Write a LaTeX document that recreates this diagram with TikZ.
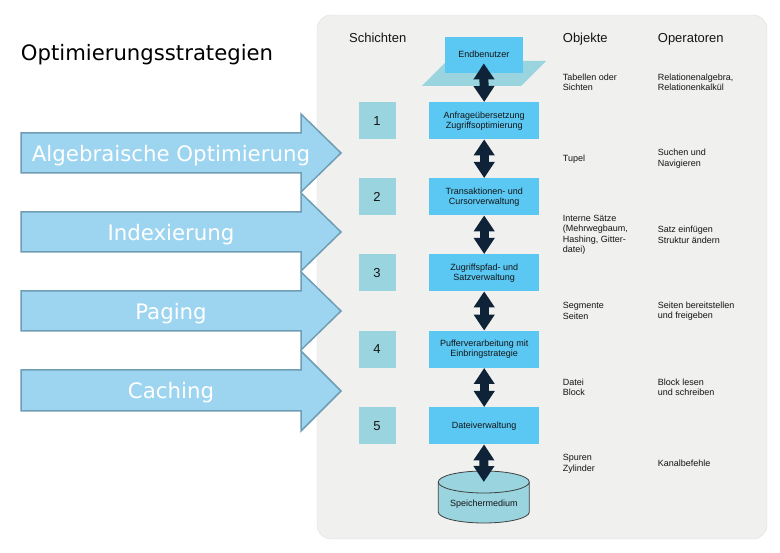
\documentclass[tikz,border=0pt]{standalone}
\usepackage{fontspec}
\setmainfont{Liberation Sans}
\newfontfamily\verdfont{DejaVu Sans}
\usetikzlibrary{arrows.meta}

\definecolor{panelgray}{HTML}{F0F0EF}
\definecolor{layerblue}{HTML}{5BC8F4}
\definecolor{numteal}{HTML}{99D4DF}
\definecolor{linknavy}{HTML}{0E2337}
\definecolor{stratblue}{HTML}{9DD5F1}
\definecolor{stratedge}{HTML}{6F9DB3}
\definecolor{inktext}{HTML}{141414}

\tikzstyle{layer} = [fill=layerblue, minimum width=110pt, minimum height=37pt, inner sep=0pt, align=center, text=inktext, font=\fontsize{9}{10}\selectfont]
\tikzstyle{num} = [fill=numteal, minimum width=37pt, minimum height=37pt, inner sep=0pt, text=inktext, font=\fontsize{13}{15}\selectfont]
\tikzstyle{info} = [anchor=west, align=left, inner sep=0pt, text=inktext, font=\fontsize{9}{10.5}\selectfont]
\tikzstyle{head} = [anchor=base west, inner sep=0pt, text=inktext, font=\fontsize{13}{15}\selectfont]
\tikzstyle{link} = [line width=9pt, draw=linknavy, {Triangle[width=20pt,length=16pt]}-{Triangle[width=20pt,length=16pt]}]
\tikzstyle{strat} = [fill=stratblue, draw=stratedge, line width=1.5pt, line join=miter]
\tikzstyle{strattext} = [anchor=base, inner sep=0pt, text=white, font=\verdfont\fontsize{21.3}{24}\selectfont]

\begin{document}
\begin{tikzpicture}[x=1pt, y=-1pt]
    \useasboundingbox (0,0) rectangle (780,553);
    % panel
    \draw[fill=panelgray, draw=black!12, rounded corners=14pt] (317,15) rectangle (767,539);
    \node [anchor=base west, inner sep=0pt, font=\verdfont\fontsize{21.2}{24}\selectfont] (title) at (20.7,61) {Optimierungsstrategien};

    \node (hs) [head] at (349,42.3) {Schichten};
    \node (ho) [head] at (562.7,42.3) {Objekte};
    \node (hp) [head] at (657.7,42.3) {Operatoren};

    % Endbenutzer und Ebene
    \fill[numteal] (422,86) -- (521,86) -- (546,61) -- (447,61) -- cycle;
    \node (user) [layer, minimum width=78pt, minimum height=36pt] at (483.8,54.7) {Endbenutzer};

    \node (b1) [layer] at (484.2,120.7) {Anfrageübersetzung\\Zugriffsoptimierung};
    \node (b2) [layer] at (484.2,196.7) {Transaktionen- und\\Cursorverwaltung};
    \node (b3) [layer] at (484.2,272.7) {Zugriffspfad- und\\Satzverwaltung};
    \node (b4) [layer] at (484.2,349.3) {Pufferverarbeitung mit\\Einbringstrategie};
    \node (b5) [layer] at (484.2,425.7) {Dateiverwaltung};

    \node (n1) [num] at (377,120.7) {1};
    \node (n2) [num] at (377,196.7) {2};
    \node (n3) [num] at (377,272.7) {3};
    \node (n4) [num] at (377,349.3) {4};
    \node (n5) [num] at (377,425.7) {5};

    % Speichermedium
    \draw[fill=numteal, draw=black!75, line width=0.8pt] (438.3,482) -- (438.3,512)
        arc[start angle=180, end angle=360, x radius=45.5pt, y radius=11pt] -- (529.3,482);
    \draw[fill=numteal, draw=black!75, line width=0.8pt] (483.8,482) ellipse [x radius=45.5pt, y radius=11pt];
    \coordinate (disktop) at (483.8,482);
    \node (disk) [inner sep=0pt, text=inktext, font=\fontsize{9}{10}\selectfont] at (483.8,504) {Speichermedium};

    \draw[link] ([yshift=9.5pt]user.south) -- (b1.north);
    \draw[link] (b1) -- (b2);
    \draw[link] (b2) -- (b3);
    \draw[link] (b3) -- (b4);
    \draw[link] (b4) -- (b5);
    \draw[link] (b5) -- (disktop);

    \node (o0) [info] at (562.7,82.5) {Tabellen oder\\Sichten};
    \node (o1) [info] at (562.7,158.7) {Tupel};
    \node (o2) [info] at (562.7,235) {Interne Sätze\\(Mehrwegbaum,\\Hashing, Gitter-\\datei)};
    \node (o3) [info] at (562.7,311) {Segmente\\Seiten};
    \node (o4) [info] at (562.7,387.3) {Datei\\Block};
    \node (o5) [info] at (562.7,463.7) {Spuren\\Zylinder};

    \node (p0) [info] at (657.7,82.5) {Relationenalgebra,\\Relationenkalkül};
    \node (p1) [info] at (657.7,158.7) {Suchen und\\Navigieren};
    \node (p2) [info] at (657.7,235) {Satz einfügen\\Struktur ändern};
    \node (p3) [info] at (657.7,311) {Seiten bereitstellen\\und freigeben};
    \node (p4) [info] at (657.7,387.3) {Block lesen\\und schreiben};
    \node (p5) [info] at (657.7,463.7) {Kanalbefehle};

    % Strategien
    \draw[strat] (21,133) -- (301,133) -- (301,114) -- (341,153) -- (301,192) -- (301,173) -- (21,173) -- cycle;
    \draw[strat] (21,212) -- (301,212) -- (301,193) -- (341,232) -- (301,271) -- (301,252) -- (21,252) -- cycle;
    \draw[strat] (21,291) -- (301,291) -- (301,272) -- (341,311) -- (301,350) -- (301,331) -- (21,331) -- cycle;
    \draw[strat] (21,370) -- (301,370) -- (301,351) -- (341,391) -- (301,431) -- (301,411) -- (21,411) -- cycle;
    \node (s1) [strattext] at (171,161.5) {Algebraische Optimierung};
    \node (s2) [strattext] at (171,240.5) {Indexierung};
    \node (s3) [strattext] at (171,319.5) {Paging};
    \node (s4) [strattext] at (171,399) {Caching};
\end{tikzpicture}
\end{document}
